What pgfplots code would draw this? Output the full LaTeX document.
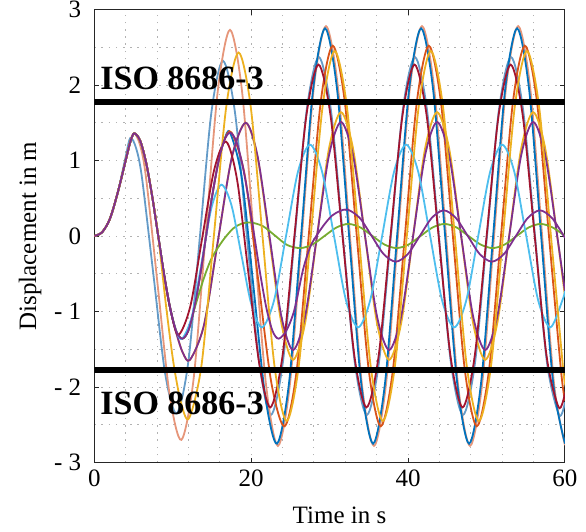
\documentclass[border=0pt]{standalone}
\usepackage{fontspec}
\setmainfont{Liberation Serif}
\usepackage{pgfplots}
\pgfplotsset{compat=1.18}
\definecolor{mblue}{RGB}{0,114,189}
\definecolor{morange}{RGB}{217,83,25}
\definecolor{myellow}{RGB}{237,177,32}
\definecolor{mpurple}{RGB}{126,47,142}
\definecolor{mgreen}{RGB}{119,172,48}
\definecolor{mcyan}{RGB}{77,190,238}
\definecolor{mred}{RGB}{162,20,47}
\definecolor{pblue}{RGB}{100,155,200}
\definecolor{psalmon}{RGB}{230,150,122}
\begin{document}
\begin{tikzpicture}
\begin{axis}[
  scale only axis, width=235.35pt, height=226.5pt,
  at={(0,0)}, anchor=south west,
  xmin=0, xmax=60, ymin=-3, ymax=3,
  xtick={0,20,40,60}, ytick={-3,-2,-1,0,1,2,3},
  yticklabels={- 3,- 2,- 1,0,1,2,3},
  /pgf/number format/assume math mode=true,
  minor x tick num=4, minor y tick num=1,
  grid=both,
  major grid style={black!30, line width=0.5pt, dash pattern=on 0.8pt off 2.8pt},
  minor grid style={black!30, line width=0.5pt, dash pattern=on 0.8pt off 2.8pt},
  tick align=inside, major tick length=2.5pt, minor tick length=0pt,
  axis line style={black!85, line width=0.5pt},
  every tick/.style={black!85, line width=0.5pt},
  tick label style={font=\fontsize{12.5}{15}\selectfont},
  yticklabel style={xshift=-3pt},
  label style={font=\fontsize{12.5}{15}\selectfont},
  xlabel={Time in s}, ylabel={Displacement in m},
  xlabel style={at={(axis description cs:0.521,-0.1159)}, anchor=center},
  ylabel style={at={(axis description cs:-0.1366,0.5)}, anchor=center},
  every axis plot/.append style={line width=0.9pt, smooth, mark=none},
]
% pale blue
\addplot[pblue] coordinates {(0,0) (1,0.05) (2,0.23) (3,0.58) (4,1.05) (4.6,1.30) (5.34,1.16) (6.08,0.77) (7.55,-0.525) (9.03,-1.82) (10.5,-2.35) (11.98,-1.67) (13.45,-0.02) (14.93,1.64) (16.4,2.32) (17.93,1.64) (19.45,0) (20.98,-1.64) (22.5,-2.37) (24.03,-1.68) (25.56,0) (27.09,1.68) (28.62,2.37) (30.15,1.68) (31.68,0) (33.21,-1.68) (34.75,-2.37) (36.28,-1.68) (37.81,0) (39.34,1.68) (40.87,2.37) (42.4,1.68) (43.93,0) (45.46,-1.68) (47.0,-2.37) (48.53,-1.68) (50.06,0) (51.59,1.68) (53.12,2.37) (54.65,1.68) (56.18,0) (57.71,-1.68) (59.25,-2.37) (60,-2.20)};
% salmon
\addplot[psalmon] coordinates {(0,0) (1,0.05) (2,0.23) (3,0.58) (4,1.0) (4.6,1.25) (5.1,1.36) (5.85,1.2) (6.6,0.77) (8.1,-0.67) (9.6,-2.10) (11.1,-2.70) (12.65,-1.90) (14.2,0.02) (15.75,1.93) (17.3,2.73) (18.83,1.92) (20.35,-0.02) (21.88,-1.96) (23.4,-2.78) (24.93,-1.97) (26.46,0) (27.99,1.97) (29.53,2.78) (31.06,1.97) (32.59,0) (34.12,-1.97) (35.65,-2.78) (37.18,-1.97) (38.71,0) (40.24,1.97) (41.78,2.78) (43.31,1.97) (44.84,0) (46.37,-1.97) (47.9,-2.78) (49.43,-1.97) (50.96,0) (52.49,1.97) (54.03,2.78) (55.56,1.97) (57.09,0) (58.62,-1.97) (60,-2.77)};
% blue
\addplot[mblue] coordinates {(0,0) (1,0.05) (2,0.23) (3,0.58) (4,1.0) (4.6,1.25) (5.1,1.36) (5.86,1.26) (6.63,0.96) (7.39,0.52) (8.15,0) (8.91,-0.52) (9.68,-0.96) (10.44,-1.26) (11.2,-1.36) (11.96,-1.26) (12.73,-0.96) (13.49,-0.52) (14.25,0) (15.01,0.52) (15.78,0.96) (16.54,1.26) (17.3,1.37) (18.8,0.77) (20.3,-0.68) (21.8,-2.13) (23.3,-2.75) (24.83,-1.94) (26.36,0) (27.89,1.94) (29.42,2.75) (30.95,1.94) (32.48,0) (34.01,-1.94) (35.54,-2.75) (37.07,-1.94) (38.6,0) (40.13,1.94) (41.66,2.75) (43.19,1.94) (44.72,0) (46.25,-1.94) (47.78,-2.75) (49.31,-1.94) (50.84,0) (52.37,1.94) (53.9,2.75) (55.43,1.94) (56.96,0) (58.49,-1.94) (60,-2.75)};
% orange
\addplot[morange] coordinates {(0,0) (1,0.05) (2,0.23) (3,0.58) (4,1.0) (4.6,1.25) (5.1,1.36) (5.86,1.26) (6.63,0.96) (7.39,0.52) (8.15,0) (8.91,-0.52) (9.68,-0.96) (10.44,-1.26) (11.2,-1.36) (11.96,-1.26) (12.73,-0.96) (13.49,-0.52) (14.25,0) (15.01,0.52) (15.78,0.96) (16.54,1.26) (17.5,1.37) (19.19,0.80) (20.89,-0.575) (22.58,-1.95) (24.27,-2.52) (25.8,-1.78) (27.33,0) (28.87,1.78) (30.4,2.52) (31.93,1.78) (33.46,0) (34.99,-1.78) (36.52,-2.52) (38.06,-1.78) (39.59,0) (41.12,1.78) (42.65,2.52) (44.18,1.78) (45.71,0) (47.24,-1.78) (48.77,-2.52) (50.31,-1.78) (51.84,0) (53.37,1.78) (54.9,2.52) (56.43,1.78) (57.96,0) (59.49,-1.78) (60,-2.18)};
% yellow (smaller steady amplitude)
\addplot[myellow] coordinates {(0,0) (1,0.05) (2,0.23) (3,0.58) (4,1.0) (4.6,1.25) (5.1,1.36) (5.86,1.26) (6.63,0.96) (7.39,0.52) (8.15,0) (8.91,-0.52) (9.68,-0.96) (10.5,-1.3) (11.3,-1.55) (12.2,-1.64) (13.98,-1.18) (15.75,-0.07) (17.53,1.04) (19.3,1.50) (20.81,1.04) (22.33,-0.05) (23.84,-1.15) (25.33,-1.64) (26.86,-1.16) (28.39,0) (29.92,1.16) (31.45,1.64) (32.98,1.16) (34.51,0) (36.05,-1.16) (37.58,-1.64) (39.11,-1.16) (40.64,0) (42.17,1.16) (43.7,1.64) (45.23,1.16) (46.76,0) (48.3,-1.16) (49.83,-1.64) (51.36,-1.16) (52.89,0) (54.42,1.16) (55.95,1.64) (57.48,1.16) (59.01,0) (60,-0.80)};
% purple (large)
\addplot[mpurple] coordinates {(0,0) (1,0.05) (2,0.23) (3,0.58) (4,1.0) (4.6,1.25) (5.1,1.36) (5.86,1.26) (6.63,0.96) (7.39,0.52) (8.15,0) (8.91,-0.52) (9.68,-0.96) (10.5,-1.3) (11.3,-1.55) (12.2,-1.64) (13.98,-1.18) (15.75,-0.07) (17.53,1.04) (19.3,1.50) (20.81,1.06) (22.33,0) (23.84,-1.06) (25.33,-1.51) (26.86,-1.07) (28.39,0) (29.92,1.07) (31.45,1.51) (32.98,1.07) (34.51,0) (36.05,-1.07) (37.58,-1.51) (39.11,-1.07) (40.64,0) (42.17,1.07) (43.7,1.51) (45.23,1.07) (46.76,0) (48.3,-1.07) (49.83,-1.51) (51.36,-1.07) (52.89,0) (54.42,1.07) (55.95,1.51) (57.48,1.07) (59.01,0) (60,-0.74)};
% green
\addplot[mgreen] coordinates {(0,0) (1,0.05) (2,0.23) (3,0.58) (4,1.0) (4.6,1.25) (5.1,1.36) (5.86,1.26) (6.63,0.96) (7.39,0.52) (8.15,0) (8.91,-0.52) (9.68,-0.96) (10.44,-1.26) (11.2,-1.36) (11.96,-1.26) (12.6,-1.02) (13.9,-0.58) (14.8,-0.33) (15.6,-0.18) (16.6,-0.03) (17.7,0.10) (18.7,0.16) (19.9,0.18) (21.5,0.13) (23.1,0.0) (24.6,-0.12) (26.27,-0.16) (27.8,-0.113) (29.34,0) (30.87,0.113) (32.4,0.16) (33.93,0.113) (35.46,0) (36.99,-0.113) (38.53,-0.16) (40.06,-0.113) (41.59,0) (43.12,0.113) (44.65,0.16) (46.18,0.113) (47.71,0) (49.24,-0.113) (50.78,-0.16) (52.31,-0.113) (53.84,0) (55.37,0.113) (56.9,0.16) (58.43,0.113) (60,0)};
% cyan
\addplot[mcyan] coordinates {(0,0) (1,0.05) (2,0.23) (3,0.58) (4,1.0) (4.6,1.25) (5.1,1.36) (5.86,1.26) (6.63,0.96) (7.39,0.52) (8.15,0) (8.91,-0.52) (9.68,-0.96) (10.44,-1.26) (11.2,-1.36) (12.45,-1.06) (13.7,-0.34) (14.95,0.38) (16.2,0.68) (17.48,0.41) (18.75,-0.25) (20.03,-0.91) (21.38,-1.21) (22.91,-0.855) (24.44,0) (25.97,0.855) (27.5,1.21) (29.03,0.855) (30.56,0) (32.09,-0.855) (33.63,-1.21) (35.16,-0.855) (36.69,0) (38.22,0.855) (39.75,1.21) (41.28,0.855) (42.81,0) (44.34,-0.855) (45.88,-1.21) (47.41,-0.855) (48.94,0) (50.47,0.855) (52.0,1.21) (53.53,0.855) (55.06,0) (56.59,-0.855) (58.13,-1.21) (59.66,-0.855) (60,-0.73)};
% dark red
\addplot[mred] coordinates {(0,0) (1,0.05) (2,0.23) (3,0.58) (4,1.0) (4.6,1.25) (5.1,1.36) (5.86,1.26) (6.63,0.96) (7.39,0.52) (8.15,0) (8.91,-0.52) (9.68,-0.96) (10.7,-1.31) (12.23,-0.935) (13.75,-0.03) (15.28,0.875) (16.8,1.25) (18.21,0.74) (19.63,-0.48) (21.04,-1.70) (22.45,-2.27) (23.98,-1.6) (25.51,0) (27.04,1.6) (28.58,2.27) (30.11,1.6) (31.64,0) (33.17,-1.6) (34.7,-2.27) (36.23,-1.6) (37.76,0) (39.29,1.6) (40.83,2.27) (42.36,1.6) (43.89,0) (45.42,-1.6) (46.95,-2.27) (48.48,-1.6) (50.01,0) (51.54,1.6) (53.08,2.27) (54.61,1.6) (56.14,0) (57.67,-1.6) (59.2,-2.27) (60,-2.08)};
% yellow (large)
\addplot[myellow] coordinates {(0,0) (1,0.05) (2,0.23) (3,0.58) (4,1.0) (4.6,1.25) (5.1,1.36) (5.86,1.26) (6.63,0.96) (7.39,0.52) (8.15,0) (9.14,-0.92) (10.12,-1.70) (11.11,-2.23) (12.1,-2.41) (13.68,-1.70) (15.25,0.01) (16.83,1.72) (18.4,2.43) (19.93,1.72) (21.45,-0.01) (22.98,-1.73) (24.52,-2.45) (26.05,-1.73) (27.59,0) (29.12,1.73) (30.65,2.45) (32.18,1.73) (33.71,0) (35.24,-1.73) (36.78,-2.45) (38.31,-1.73) (39.84,0) (41.37,1.73) (42.9,2.45) (44.43,1.73) (45.96,0) (47.49,-1.73) (49.03,-2.45) (50.56,-1.73) (52.09,0) (53.62,1.73) (55.15,2.45) (56.68,1.73) (58.21,0) (59.74,-1.73) (60,-1.95)};
% purple (small steady amplitude)
\addplot[mpurple] coordinates {(0,0) (1,0.05) (2,0.23) (3,0.58) (4,1.0) (4.6,1.25) (5.1,1.36) (5.86,1.26) (6.63,0.96) (7.39,0.52) (8.15,0) (8.91,-0.52) (9.68,-0.96) (10.44,-1.26) (11.2,-1.36) (11.96,-1.26) (12.73,-0.96) (13.49,-0.52) (14.25,0) (15.01,0.52) (15.78,0.96) (16.54,1.26) (17.3,1.37) (18.08,1.26) (18.85,0.96) (19.63,0.52) (20.4,0) (21.18,-0.52) (21.95,-0.96) (22.73,-1.26) (23.5,-1.36) (24.5,-1.25) (25.5,-0.98) (26.6,-0.45) (27.5,-0.15) (28.3,0.0) (29.3,0.15) (30.3,0.27) (31.3,0.33) (32.3,0.35) (33.83,0.24) (35.36,0) (36.89,-0.24) (38.43,-0.34) (39.96,-0.24) (41.49,0) (43.02,0.24) (44.55,0.34) (46.08,0.24) (47.61,0) (49.14,-0.24) (50.68,-0.34) (52.21,-0.24) (53.74,0) (55.27,0.24) (56.8,0.34) (58.33,0.24) (59.86,0) (60,-0.02)};
% ISO 8686-3 limits
\addplot[black, line width=3pt] coordinates {(0,1.77) (60,1.77)};
\addplot[black, line width=3pt] coordinates {(0,-1.77) (60,-1.77)};
\node[anchor=base west, inner sep=0pt, font=\fontsize{17}{20}\selectfont\bfseries] at (axis cs:0.73,1.94) {ISO 8686-3};
\node[anchor=base west, inner sep=0pt, font=\fontsize{17}{20}\selectfont\bfseries] at (axis cs:0.73,-2.37) {ISO 8686-3};
\end{axis}
\pgfresetboundingbox
\path[use as bounding box] (-47.15pt,-34.75pt) rectangle (245.85pt,231.25pt);
\end{tikzpicture}
\end{document}
